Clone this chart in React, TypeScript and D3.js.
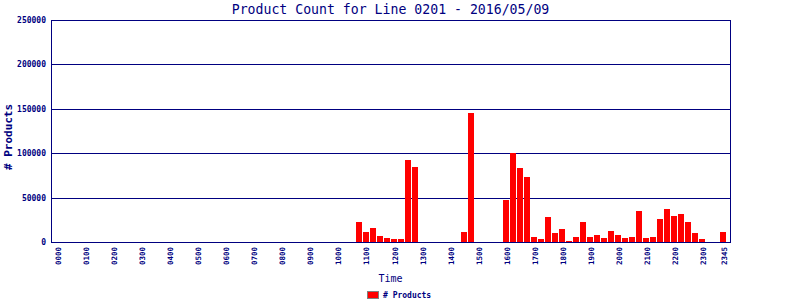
import React from "react";
import * as d3 from "d3";

const times: string[] = [];
for (let h = 0; h < 24; h++) for (let m = 0; m < 60; m += 15) times.push(String(h).padStart(2, "0") + String(m).padStart(2, "0"));

// values per 15-minute slot (index 43 = 1045 ...)
const slotValues: [string, number][] = [
  ["1045", 22500], ["1100", 11300], ["1115", 15800], ["1130", 6800], ["1145", 4500],
  ["1200", 3400], ["1215", 3400], ["1230", 92300], ["1245", 84500],
  ["1430", 11300], ["1445", 145300],
  ["1600", 47300], ["1615", 99900], ["1630", 83300], ["1645", 73200],
  ["1700", 5600], ["1715", 3400], ["1730", 28200], ["1745", 10100],
  ["1800", 14600], ["1815", 1100], ["1830", 5600], ["1845", 22500],
  ["1900", 5600], ["1915", 7900], ["1930", 4500], ["1945", 12400],
  ["2000", 7900], ["2015", 4500], ["2030", 5600], ["2045", 34900],
  ["2100", 4500], ["2115", 5600], ["2130", 25900], ["2145", 37200],
  ["2200", 29300], ["2215", 31500], ["2230", 22500], ["2245", 10100],
  ["2300", 3400], ["2345", 11300],
];
const valueMap = new Map(slotValues);
const products = times.map((t) => valueMap.get(t) ?? 0);

const yTicks = [0, 50000, 100000, 150000, 200000, 250000];
const xTickLabels = times.filter((t) => t.endsWith("00")).concat(["2345"]);

const W = 800, H = 300;
const left = 51, right = 730, top = 20, bottom = 242;
const NAVY = "#000080";
const MONO = "'DejaVu Sans Mono', 'Liberation Mono', monospace";

export default function App() {
  const x = d3.scaleBand<string>().domain(times).range([left, right]).paddingInner(1 / 7).paddingOuter(0.5);
  const y = d3.scaleLinear().domain([0, 250000]).range([bottom, top]);
  const step = x.step();
  return (
    <svg width={W} height={H} style={{ position: "absolute", left: 0, top: 0, background: "#fff" }} shapeRendering="crispEdges">
      <rect x={0} y={0} width={W} height={H} fill="#fff" />
      <text x={(left + right) / 2} y={14} textAnchor="middle" fontFamily={MONO} fontSize={13.2} fill={NAVY}>
        Product Count for Line 0201 - 2016/05/09
      </text>
      {yTicks.map((v) => (
        <g key={v}>
          <line x1={left} x2={right} y1={Math.round(y(v)) + 0.5} y2={Math.round(y(v)) + 0.5} stroke={NAVY} strokeWidth={1} />
          <text x={46} y={y(v) + 3} textAnchor="end" fontFamily={MONO} fontSize={8} fontWeight="bold" fill={NAVY}>
            {v}
          </text>
        </g>
      ))}
      {times.map((t, i) => (
        <rect key={t} x={x(t)!} y={y(products[i])} width={x.bandwidth()} height={bottom - y(products[i])} fill="#ff0000" />
      ))}
      <line x1={left + 0.5} x2={left + 0.5} y1={top} y2={bottom + 1} stroke={NAVY} />
      <line x1={right + 0.5} x2={right + 0.5} y1={top} y2={bottom + 1} stroke={NAVY} />
      <line x1={left} x2={right + 1} y1={bottom + 0.5} y2={bottom + 0.5} stroke={NAVY} />
      {xTickLabels.map((t) => {
        const cx = x(t)! + x.bandwidth() / 2 + 0.5;
        return (
          <text key={t} transform={`translate(${cx + 3},247) rotate(-90)`} textAnchor="end" fontFamily={MONO} fontSize={7.5} fontWeight="bold" fill={NAVY}>
            {t}
          </text>
        );
      })}
      <text x={(left + right) / 2} y={282} textAnchor="middle" fontFamily={MONO} fontSize={10} fill={NAVY}>
        Time
      </text>
      <text transform={`translate(12,137) rotate(-90)`} textAnchor="middle" fontFamily={MONO} fontSize={11} fontWeight="bold" fill={NAVY}>
        # Products
      </text>
      <rect x={367.5} y={291.5} width={11} height={7} fill="#ff0000" stroke="#808080" />
      <text x={383} y={298} fontFamily={MONO} fontSize={8} fontWeight="bold" fill={NAVY}>
        # Products
      </text>
    </svg>
  );
}
